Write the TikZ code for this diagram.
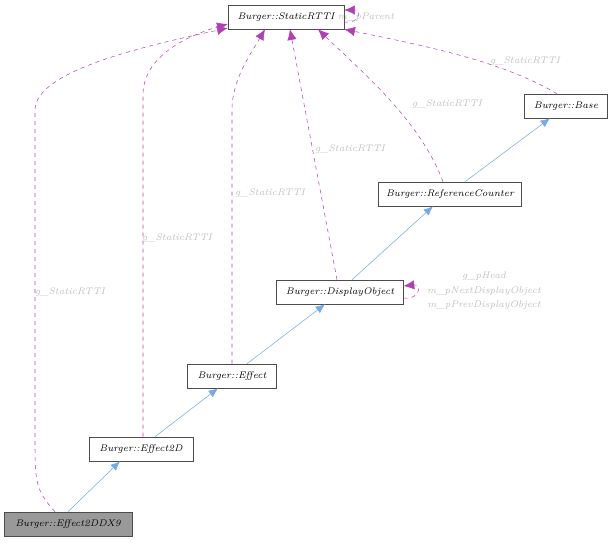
\documentclass[tikz,border=0pt]{standalone}
\usepackage{tikz}
\usetikzlibrary{arrows.meta}
\begin{document}
\begin{tikzpicture}[
	x=0.75pt, y=-0.75pt,
	font=\fontsize{7.2}{8.5}\selectfont\itshape,
	every node/.style={inner sep=0pt},
	cls/.style={draw=black!70, fill=white, minimum height=18pt, inner xsep=3pt},
	inh/.style={-{Latex[length=7pt,width=6pt]}, color=cyan!60!blue!55, thin},
	use/.style={-{Latex[length=8pt,width=7pt]}, color=violet!80!magenta!75, dashed, thin},
	lbl/.style={text=black!25}
	]
	\useasboundingbox (0,0) rectangle (614,543);

	\node[cls, minimum width=87pt] (rtti) at (286,17) {Burger::StaticRTTI};
	\node[cls, minimum width=62pt] (base) at (566,106) {Burger::Base};
	\node[cls, minimum width=107pt] (refc) at (450,194) {Burger::ReferenceCounter};
	\node[cls, minimum width=95pt] (disp) at (340,292) {Burger::DisplayObject};
	\node[cls, minimum width=67pt] (eff) at (232,376) {Burger::Effect};
	\node[cls, minimum width=78pt] (eff2) at (141,449) {Burger::Effect2D};
	\node[cls, minimum width=96pt, fill=black!40] (dx9) at (68,524) {Burger::Effect2DDX9};

	% inheritance
	\draw[inh] (dx9.north -| 68,0) -- (eff2.south -| 120,0);
	\draw[inh] (eff2.north -| 155,0) -- (eff.south -| 218,0);
	\draw[inh] (eff.north -| 247,0) -- (disp.south -| 325,0);
	\draw[inh] (disp.north -| 352,0) -- (refc.south -| 433,0);
	\draw[inh] (refc.north -| 465,0) -- (base.south -| 550,0);

	% usage
	\draw[use] (dx9.north -| 55,0) .. controls (35,490) and (35,480) .. (35,440)
		-- (35,110) .. controls (35,70) and (150,45) .. (rtti.west |- 0,28);
	\draw[use] (eff2.north -| 143,0) -- (143,95) .. controls (143,55) and (190,35) .. (rtti.west |- 0,24);
	\draw[use] (eff.north -| 232,0) -- (232,110) .. controls (232,80) and (250,55) .. (rtti.south -| 265,0);
	\draw[use] (disp.north -| 337,0) -- (rtti.south -| 290,0);
	\draw[use] (refc.north -| 443,0) .. controls (420,120) and (360,70) .. (rtti.south -| 318,0);
	\draw[use] (base.north -| 557,0) .. controls (500,60) and (420,45) .. (rtti.south east);
	\draw[use] (rtti.east |- 0,22) .. controls (360,24) and (362,10) .. (rtti.east |- 0,10);
	\draw[use] (disp.east |- 0,298) .. controls (420,300) and (422,284) .. (disp.east |- 0,286);

	\node[lbl] (l1) at (70,292) {g\_StaticRTTI};
	\node[lbl] (l2) at (177,238) {g\_StaticRTTI};
	\node[lbl] (l3) at (270,193) {g\_StaticRTTI};
	\node[lbl] (l4) at (350,149) {g\_StaticRTTI};
	\node[lbl] (l5) at (447,104) {g\_StaticRTTI};
	\node[lbl] (l6) at (525,61) {g\_StaticRTTI};
	\node[lbl] (l7) at (366,17) {m\_pParent};
	\node[lbl] (l8) at (484,276) {g\_pHead};
	\node[lbl] (l9) at (484,291) {m\_pNextDisplayObject};
	\node[lbl] (l10) at (484,305) {m\_pPrevDisplayObject};
\end{tikzpicture}
\end{document}
